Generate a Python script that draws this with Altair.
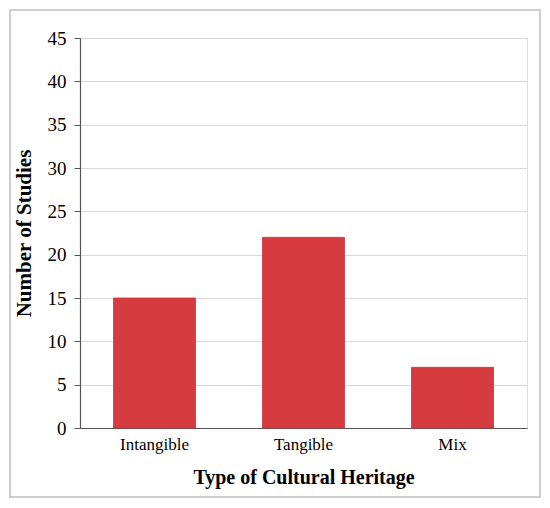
import altair as alt
import pandas as pd

categories = ["Intangible", "Tangible", "Mix"]
counts = [15, 22, 7]
y_ticks = [0, 5, 10, 15, 20, 25, 30, 35, 40, 45]

df = pd.DataFrame({"type": categories, "n": counts})

FONT = "Liberation Serif"

bars = alt.Chart(df).mark_bar(color="#D63B3F", stroke="#C9343A", strokeWidth=0.8).encode(
    x=alt.X("type:N", sort=categories,
            scale=alt.Scale(paddingInner=0.45, paddingOuter=0.225),
            axis=alt.Axis(title="Type of Cultural Heritage", labelAngle=0,
                          labelFont=FONT, labelFontSize=17, labelColor="#000",
                          titleFont=FONT, titleFontSize=20, titleFontWeight="bold",
                          titleColor="#000", titlePadding=15, labelPadding=8,
                          ticks=False, domainColor="#555", domainWidth=1.2)),
    y=alt.Y("n:Q", scale=alt.Scale(domain=[0, 45], nice=False),
            axis=alt.Axis(title="Number of Studies", values=y_ticks,
                          labelFont=FONT, labelFontSize=19, labelColor="#000",
                          titleFont=FONT, titleFontSize=21, titleFontWeight="bold",
                          titleColor="#000", titlePadding=13, labelPadding=8,
                          tickSize=6, tickColor="#555", domainColor="#555",
                          domainWidth=1.2, gridColor="#D9D9D9", gridWidth=1.2)),
)

border = alt.Chart(df).mark_rect(fill=None, stroke="#CFCFCF", strokeWidth=2, clip=False).encode(
    x=alt.value(-70), x2=alt.value(460), y=alt.value(-28), y2=alt.value(459)
)

chart = alt.layer(bars, border).properties(
    width=447, height=390,
    autosize=alt.AutoSizeParams(type="none"),
    padding={"left": 72, "top": 30, "right": 15, "bottom": 70},
).configure_view(stroke=None).configure(background="white")

chart.save("out.html", embed_options={"renderer": "svg", "actions": False})
